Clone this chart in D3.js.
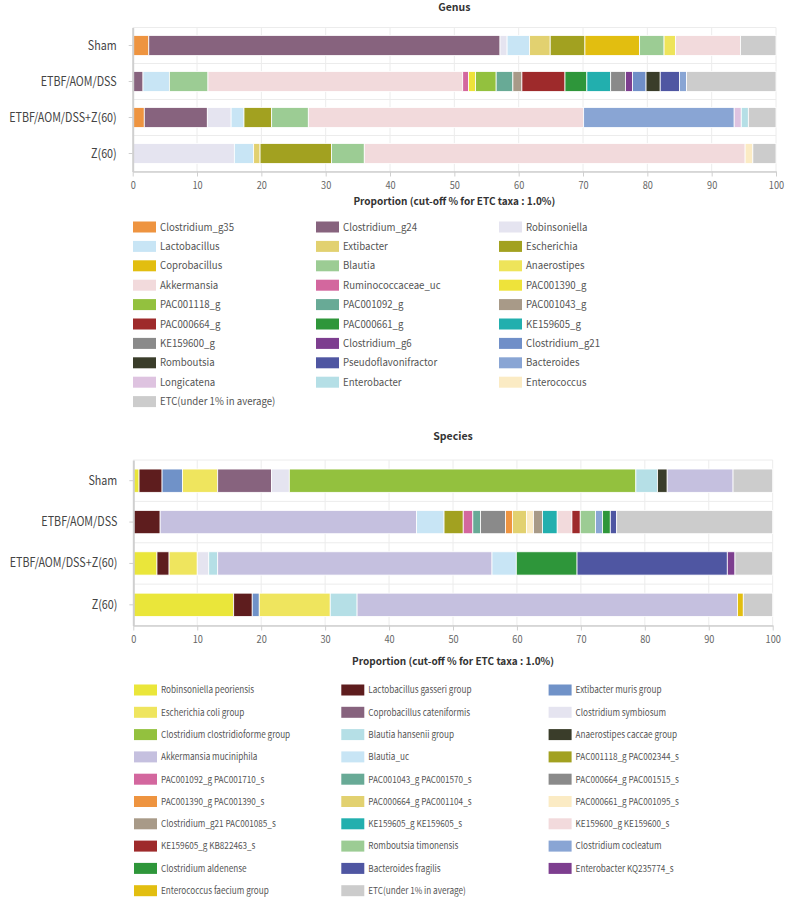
<!DOCTYPE html>
<html>
<head>
<meta charset="utf-8">
<script src="https://cdn.jsdelivr.net/npm/d3@7"></script>
<style>
  html, body { margin: 0; padding: 0; background: #fff; }
  svg { display: block; }
  text { font-family: "Noto Sans CJK KR", "Noto Sans", sans-serif; }
</style>
</head>
<body>
<svg id="chart" width="787" height="902"></svg>
<script>
// ---------------- DATA ----------------
const groups = ["Sham", "ETBF/AOM/DSS", "ETBF/AOM/DSS+Z(60)", "Z(60)"];
const xTicks = [0, 10, 20, 30, 40, 50, 60, 70, 80, 90, 100];

const genusTaxa = ["Clostridium_g35", "Clostridium_g24", "Robinsoniella", "Lactobacillus", "Extibacter", "Escherichia",
  "Coprobacillus", "Blautia", "Anaerostipes", "Akkermansia", "Ruminococcaceae_uc", "PAC001390_g",
  "PAC001118_g", "PAC001092_g", "PAC001043_g", "PAC000664_g", "PAC000661_g", "KE159605_g",
  "KE159600_g", "Clostridium_g6", "Clostridium_g21", "Romboutsia", "Pseudoflavonifractor", "Bacteroides",
  "Longicatena", "Enterobacter", "Enterococcus", "ETC(under 1% in average)"];
const genusColors = ["#ee9440", "#87637e", "#e5e4f0", "#c8e5f5", "#e2d170", "#a2a120",
  "#e2be10", "#9ccc94", "#eee45a", "#f2dadc", "#d3679e", "#eee33a",
  "#93c13e", "#68aa96", "#a89a88", "#9e2a2b", "#2e963a", "#22afae",
  "#8a8a8a", "#7d3e8f", "#708fc8", "#3a3d2a", "#4f56a2", "#89a5d4",
  "#dec3e0", "#b5dfe6", "#fbebc4", "#cccccc"];
// values per group, in genusTaxa order
const genusSham = [2.5, 54.6, 1.1, 3.5, 3.2, 5.4, 8.5, 3.8, 1.8, 10.1, 0, 0, 0, 0, 0, 0, 0, 0, 0, 0, 0, 0, 0, 0, 0, 0, 0, 5.5];
const genusETBF = [0, 1.6, 0, 4.1, 0, 0, 0, 6.0, 0, 39.6, 0.9, 1.1, 3.2, 2.6, 1.4, 6.7, 3.4, 3.7, 2.3, 1.1, 2.1, 2.2, 3.0, 1.1, 0, 0, 0, 13.9];
const genusETBFZ = [1.8, 9.8, 3.7, 2.0, 0, 4.3, 0, 5.7, 0, 42.8, 0, 0, 0, 0, 0, 0, 0, 0, 0, 0, 0, 0, 0, 23.4, 1.1, 1.1, 0, 4.3];
const genusZ60 = [0, 0, 15.8, 3.0, 1.0, 11.1, 0, 5.1, 0, 59.2, 0, 0, 0, 0, 0, 0, 0, 0, 0, 0, 0, 0, 0, 0, 0, 0, 1.2, 3.6];

const speciesTaxa = ["Robinsoniella peoriensis", "Lactobacillus gasseri group", "Extibacter muris group",
  "Escherichia coli group", "Coprobacillus cateniformis", "Clostridium symbiosum",
  "Clostridium clostridioforme group", "Blautia hansenii group", "Anaerostipes caccae group",
  "Akkermansia muciniphila", "Blautia_uc", "PAC001118_g PAC002344_s",
  "PAC001092_g PAC001710_s", "PAC001043_g PAC001570_s", "PAC000664_g PAC001515_s",
  "PAC001390_g PAC001390_s", "PAC000664_g PAC001104_s", "PAC000661_g PAC001095_s",
  "Clostridium_g21 PAC001085_s", "KE159605_g KE159605_s", "KE159600_g KE159600_s",
  "KE159605_g KB822463_s", "Romboutsia timonensis", "Clostridium cocleatum",
  "Clostridium aldenense", "Bacteroides fragilis", "Enterobacter KQ235774_s",
  "Enterococcus faecium group", "ETC(under 1% in average)"];
const speciesColors = ["#eae63a", "#5e1d1e", "#7092c8",
  "#efe55e", "#87637e", "#e5e4f0",
  "#93c13e", "#b5dfe6", "#3a3d2a",
  "#c5c0df", "#c8e5f5", "#a2a120",
  "#d3679e", "#68aa96", "#8a8a8a",
  "#ee9440", "#e2d170", "#fbebc4",
  "#a89a88", "#22afae", "#f2dadc",
  "#9e2a2b", "#9ccc94", "#89a5d4",
  "#2e963a", "#4f56a2", "#7d3e8f",
  "#e2be10", "#cccccc"];
const speciesSham = [0.9, 3.6, 3.2, 5.5, 8.4, 2.8, 54.2, 3.4, 1.5, 10.3, 0, 0, 0, 0, 0, 0, 0, 0, 0, 0, 0, 0, 0, 0, 0, 0, 0, 0, 6.2];
const speciesETBF = [0, 4.2, 0, 0, 0, 0, 0, 0, 0, 40.1, 4.3, 3.0, 1.5, 1.2, 3.9, 1.1, 2.2, 1.1, 1.4, 2.3, 2.3, 1.3, 2.4, 1.1, 1.2, 1.0, 0, 0, 24.4];
const speciesETBFZ = [3.7, 1.9, 0, 4.4, 0, 1.8, 0, 1.4, 0, 42.9, 3.8, 0, 0, 0, 0, 0, 0, 0, 0, 0, 0, 0, 0, 0, 9.5, 23.5, 1.2, 0, 5.9];
const speciesZ60 = [15.7, 2.9, 1.1, 11.1, 0, 0, 0, 4.2, 0, 59.5, 0, 0, 0, 0, 0, 0, 0, 0, 0, 0, 0, 0, 0, 0, 0, 0, 0, 0.9, 4.6];

const axisTitle = "Proportion (cut-off % for ETC taxa : 1.0%)";

// ---------------- DRAW ----------------
const svg = d3.select("#chart");

function drawPanel(cfg) {
  const g = svg.append("g");
  const x = d3.scaleLinear().domain([0, 100]).range([cfg.x0, cfg.x1]);
  const y = d3.scaleBand().domain(groups).range([cfg.y0, cfg.y1]).paddingInner(cfg.pad).paddingOuter(cfg.pad / 2);

  // title
  g.append("text").attr("x", (cfg.x0 + cfg.x1) / 2).attr("y", cfg.titleY)
    .attr("text-anchor", "middle").attr("font-size", 10.5).attr("font-weight", "bold").attr("fill", "#333")
    .text(cfg.title);

  // vertical grid
  g.append("g").selectAll("line").data(xTicks.slice(1)).join("line")
    .attr("x1", d => x(d)).attr("x2", d => x(d)).attr("y1", cfg.y0).attr("y2", cfg.y1)
    .attr("stroke", "#ececec").attr("stroke-width", 1);
  // horizontal grid at band boundaries
  const bounds = groups.map(gr => y(gr) - y.step() * cfg.pad / 2).concat([cfg.y1]);
  g.append("g").selectAll("line").data(bounds).join("line")
    .attr("x1", cfg.x0).attr("x2", cfg.x1).attr("y1", d => d).attr("y2", d => d)
    .attr("stroke", "#ececec").attr("stroke-width", 1);

  // stacked bars
  const rows = groups.map((gr, i) => {
    const vals = cfg.values[i];
    const total = d3.sum(vals);
    let acc = 0;
    return vals.map((v, k) => {
      const seg = { group: gr, k, start: acc / total * 100, end: (acc + v) / total * 100 };
      acc += v;
      return seg;
    }).filter(s => s.end > s.start);
  });
  g.append("g").selectAll("g").data(rows).join("g")
    .selectAll("rect").data(d => d).join("rect")
    .attr("x", d => x(d.start)).attr("width", d => x(d.end) - x(d.start))
    .attr("y", d => y(d.group)).attr("height", y.bandwidth())
    .attr("fill", d => cfg.colors[d.k]).attr("stroke", "#fff").attr("stroke-width", 0.8);

  // x axis
  const xa = g.append("g").attr("transform", `translate(0,${cfg.y1})`)
    .call(d3.axisBottom(x).tickValues(xTicks).tickSize(5).tickPadding(5).tickSizeOuter(0));
  xa.select(".domain").attr("stroke", "#cfcfcf").attr("stroke-width", 1.5);
  xa.selectAll(".tick line").attr("stroke", "#cfcfcf");
  xa.selectAll("text").attr("font-size", 10).attr("fill", "#666")
    .attr("transform", "scale(0.92,1)")
    .attr("x", 0);

  // y axis
  const sy = 0.86;
  const ya = g.append("g").attr("transform", `translate(${cfg.x0},0)`)
    .call(d3.axisLeft(y).tickSize(4).tickPadding(12).tickSizeOuter(0));
  ya.select(".domain").attr("stroke", "#cfcfcf").attr("stroke-width", 2);
  ya.selectAll(".tick line").attr("stroke", "#cfcfcf");
  ya.selectAll("text").attr("font-size", 12.5).attr("fill", "#444")
    .attr("transform", `scale(${sy},1)`).attr("x", -16 / sy);

  // axis title
  g.append("text").attr("x", (cfg.x0 + cfg.x1) / 2).attr("y", cfg.axisTitleY)
    .attr("text-anchor", "middle").attr("font-size", 10).attr("font-weight", "bold").attr("fill", "#333")
    .text(axisTitle);

  // legend
  const leg = g.append("g");
  const items = leg.selectAll("g").data(cfg.taxa).join("g")
    .attr("transform", (d, i) => `translate(${cfg.legX + (i % 3) * cfg.legColW},${cfg.legY + Math.floor(i / 3) * cfg.legRowH})`);
  items.append("rect").attr("x", 0).attr("y", -cfg.swH / 2).attr("width", cfg.swW).attr("height", cfg.swH)
    .attr("fill", (d, i) => cfg.colors[i]);
  items.append("text").attr("transform", `translate(${cfg.swW + 4},0) scale(${cfg.legScale},1)`)
    .attr("dy", "0.35em")
    .attr("font-size", cfg.legFont).attr("fill", "#555").text(d => d);
}

drawPanel({
  title: "Genus", titleY: 11,
  x0: 132.7, x1: 776, y0: 27.5, y1: 171.5, pad: 0.444,
  values: [genusSham, genusETBF, genusETBFZ, genusZ60],
  taxa: genusTaxa, colors: genusColors,
  axisTitleY: 205,
  legX: 133, legColW: 183, legY: 227, legRowH: 19.4, swW: 23, swH: 11,
  legFont: 10.5, legScale: 0.92
});

drawPanel({
  title: "Species", titleY: 440,
  x0: 133.3, x1: 772.7, y0: 460, y1: 625.5, pad: 0.437,
  values: [speciesSham, speciesETBF, speciesETBFZ, speciesZ60],
  taxa: speciesTaxa, colors: speciesColors,
  axisTitleY: 665,
  legX: 134, legColW: 207.3, legY: 690, legRowH: 22.3, swW: 23, swH: 11,
  legFont: 9.5, legScale: 0.86
});
</script>
</body>
</html>
